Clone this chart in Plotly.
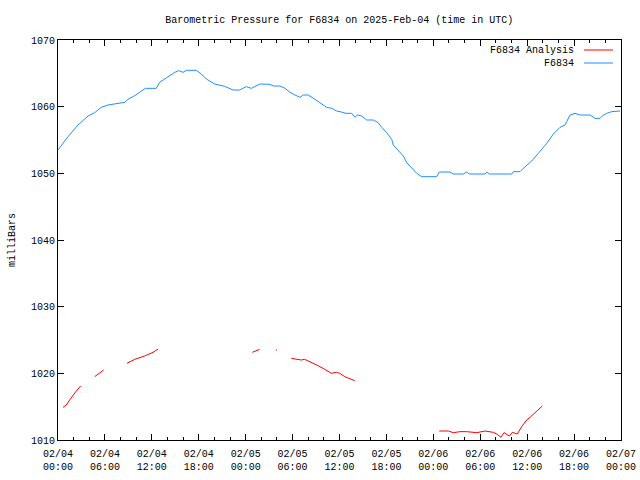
import datetime as dt
import plotly.graph_objects as go

BASE = dt.datetime(2025, 2, 4, 0, 0)

# Station series (hours since 2025-02-04 00:00 UTC, millibars)
blue_hours = [0, 1.28, 2.56, 3.84, 4.69, 5.54, 6.39, 7.46, 8.53, 8.95, 9.81, 11.17, 12.57, 13.0,
              13.65, 14.29, 14.93, 15.44, 15.99, 16.41, 17.69, 18.33, 18.97, 20.04, 21.32, 22.38,
              23.24, 24.08, 24.72, 25.83, 27.11, 27.53, 28.39, 29.03, 29.67, 30.31, 30.95, 31.37,
              32.01, 32.87, 33.51, 34.36, 35.0, 35.64, 36.07, 36.83, 37.56, 37.98, 38.28, 38.84,
              39.48, 40.32, 40.96, 41.4, 42.04, 42.68, 42.88, 43.52, 44.16, 44.6, 45.24, 45.88,
              46.51, 48.43, 48.76, 50.13, 50.56, 51.84, 52.27, 52.6, 54.61, 54.82, 55.16, 58.02,
              58.23, 59.09, 59.51, 60.58, 61.43, 62.5, 63.35, 64.2, 64.84, 65.48, 66.12, 66.76,
              68.04, 68.68, 69.32, 69.74, 70.17, 70.81, 71.88]
blue_values = [1053.5, 1055.5, 1057.25, 1058.6, 1059.1, 1059.9, 1060.25, 1060.4, 1060.65, 1061.1,
               1061.65, 1062.75, 1062.75, 1063.65, 1064.15, 1064.75, 1065.15, 1065.4, 1065.15,
               1065.45, 1065.45, 1064.9, 1064.15, 1063.4, 1063.05, 1062.5, 1062.5, 1063.0, 1062.75,
               1063.4, 1063.35, 1063.1, 1063.1, 1062.75, 1062.15, 1061.75, 1061.4, 1061.75, 1061.75,
               1061.1, 1060.6, 1059.9, 1059.75, 1059.35, 1059.25, 1059.0, 1059.0, 1058.4, 1058.75,
               1058.6, 1058.0, 1058.0, 1057.6, 1056.9, 1056.1, 1055.1, 1054.25, 1053.5, 1052.6,
               1051.6, 1050.75, 1050.0, 1049.5, 1049.5, 1050.2, 1050.2, 1049.9, 1049.9, 1050.2,
               1049.9, 1049.9, 1050.2, 1049.9, 1049.9, 1050.25, 1050.25, 1050.75, 1051.85, 1053.0,
               1054.5, 1055.9, 1056.9, 1057.25, 1058.75, 1059.0, 1058.75, 1058.75, 1058.25, 1058.25,
               1058.75, 1059.0, 1059.25, 1059.35]

# Analysis series (None = gap)
red_hours = [0.64, 1.06, 1.49, 1.92, 2.34, 2.9, None,
             4.69, 5.84, None,
             8.82, 9.81, 11.09, 12.15, 12.79, None,
             24.85, 25.79, None,
             27.85, 28.0, None,
             29.84, 30.48, 31.12, 31.55, 32.4, 33.26, 34.11, 34.96, 35.6, 36.04, 36.67, 37.31, 37.95, None,
             48.76, 49.92, 50.56, 51.41, 52.27, 53.55, 54.61, 55.67, 56.18, 56.65, 57.04, 57.38,
             57.72, 58.1, 58.45, 58.74, 59.3, 59.94, 60.36, 61.22, 61.94]
red_values = [1014.9, 1015.25, 1016.0, 1016.75, 1017.35, 1018.1, None,
              1019.5, 1020.5, None,
              1021.5, 1022.1, 1022.6, 1023.15, 1023.65, None,
              1023.15, 1023.6, None,
              1023.5, 1023.5, None,
              1022.25, 1022.1, 1022.0, 1022.1, 1021.65, 1021.15, 1020.6, 1020.0, 1020.15, 1020.0,
              1019.5, 1019.25, 1018.9, None,
              1011.35, 1011.35, 1011.1, 1011.25, 1011.25, 1011.1, 1011.35, 1011.15, 1010.85, 1010.4,
              1011.1, 1010.85, 1010.6, 1011.15, 1011.0, 1010.9, 1012.0, 1013.0, 1013.4, 1014.25, 1015.1]

tick_hours = [0, 6, 12, 18, 24, 30, 36, 42, 48, 54, 60, 66, 72]
tick_labels = ["02/04<br>00:00", "02/04<br>06:00", "02/04<br>12:00", "02/04<br>18:00",
               "02/05<br>00:00", "02/05<br>06:00", "02/05<br>12:00", "02/05<br>18:00",
               "02/06<br>00:00", "02/06<br>06:00", "02/06<br>12:00", "02/06<br>18:00",
               "02/07<br>00:00"]
y_ticks = [1010, 1020, 1030, 1040, 1050, 1060, 1070]

def to_time(h):
    return None if h is None else BASE + dt.timedelta(hours=h)

FONT = "Liberation Mono"
RED = "#ff0000"
BLUE = "#1e90ff"

fig = go.Figure()
fig.add_trace(go.Scatter(x=[to_time(h) for h in red_hours], y=red_values, mode="lines",
                         line=dict(color=RED, width=1), connectgaps=False,
                         name="F6834 Analysis", showlegend=False))
fig.add_trace(go.Scatter(x=[to_time(h) for h in blue_hours], y=blue_values, mode="lines",
                         line=dict(color=BLUE, width=1), name="F6834", showlegend=False))

fig.update_layout(
    width=640, height=480,
    margin=dict(l=58, r=19, t=40, b=40, autoexpand=False),
    paper_bgcolor="white", plot_bgcolor="white",
    font=dict(family=FONT, size=10, color="black"),
    title=dict(text="Barometric Pressure for F6834 on 2025-Feb-04 (time in UTC)",
               x=0.53, xanchor="center", y=1 - 19 / 480, yanchor="middle",
               font=dict(family=FONT, size=10, color="black")),
)
fig.update_xaxes(
    type="date", range=[to_time(0), to_time(72)], automargin=False,
    tickmode="array", tickvals=[to_time(h) for h in tick_hours], ticktext=tick_labels,
    ticks="inside", ticklen=6, tickcolor="black", tickwidth=1, ticklabelstandoff=4,
    minor=dict(dtick=2 * 3600 * 1000, tick0=to_time(0), ticks="inside", ticklen=3,
               tickcolor="black", tickwidth=1, showgrid=False),
    showline=True, linecolor="black", linewidth=1, mirror="ticks",
    showgrid=False, zeroline=False, fixedrange=True,
)
fig.update_yaxes(
    range=[1010, 1070], tickmode="array", tickvals=y_ticks, automargin=False,
    ticks="inside", ticklen=6, tickcolor="black", tickwidth=1,
    showline=True, linecolor="black", linewidth=1, mirror="ticks",
    showgrid=False, zeroline=False,
)

# y label
fig.add_annotation(text="milliBars", xref="paper", yref="paper", x=-46 / 563, y=0.5,
                   textangle=-90, showarrow=False, xanchor="center", yanchor="middle",
                   font=dict(family=FONT, size=10, color="black"))

# gnuplot-style key (text right-aligned, sample line on the right)
key_items = [("F6834 Analysis", RED, 50), ("F6834", BLUE, 63)]
for label, color, ypx in key_items:
    yp = 1 - (ypx - 40) / 400
    fig.add_annotation(text=label, xref="paper", yref="paper", x=(576 - 58) / 563, y=yp,
                       xanchor="right", yanchor="middle", showarrow=False,
                       font=dict(family=FONT, size=10, color="black"))
    fig.add_shape(type="line", xref="paper", yref="paper",
                  x0=(584 - 58) / 563, x1=(613 - 58) / 563, y0=yp, y1=yp,
                  line=dict(color=color, width=1))

fig.write_html("out.html")
